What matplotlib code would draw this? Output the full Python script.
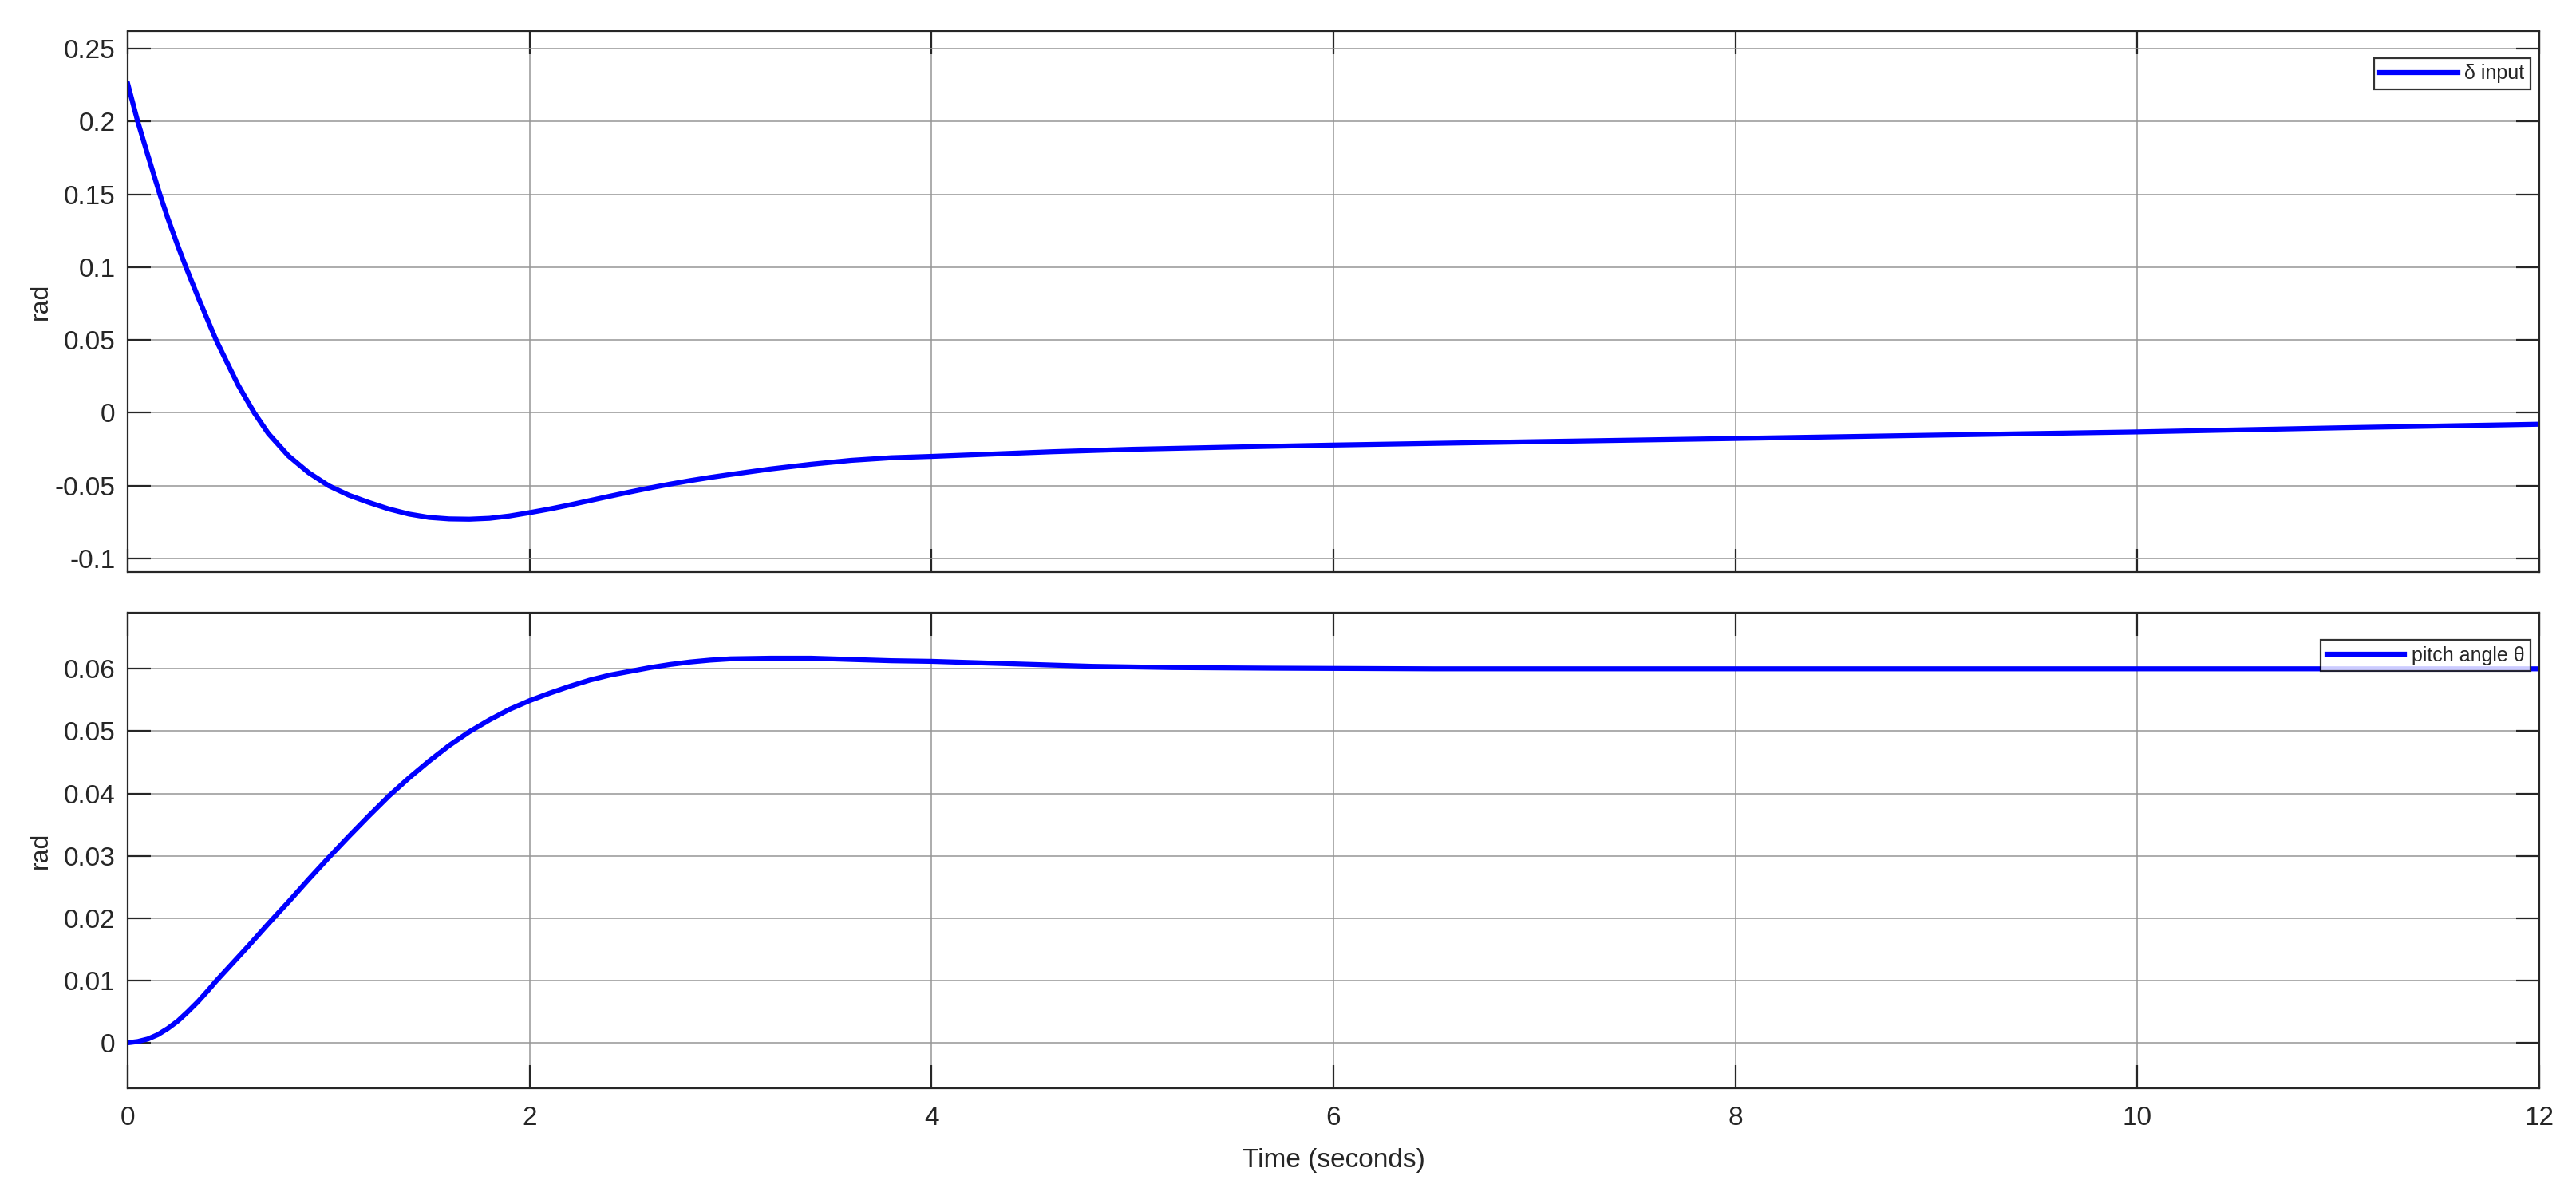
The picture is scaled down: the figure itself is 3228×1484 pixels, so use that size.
import matplotlib
matplotlib.use("Agg")
import matplotlib.pyplot as plt

# delta input (rad)
delta_t = [0.0, 0.05, 0.1, 0.16, 0.2, 0.25, 0.29, 0.35, 0.44, 0.5, 0.55, 0.63, 0.7, 0.8,
           0.9, 1.0, 1.1, 1.2, 1.3, 1.4, 1.5, 1.6, 1.7, 1.8, 1.9, 2.0, 2.1, 2.2, 2.3,
           2.4, 2.5, 2.6, 2.7, 2.8, 2.9, 3.0, 3.2, 3.4, 3.6, 3.8, 4.0, 4.3, 4.6, 5.0,
           5.5, 6.0, 7.0, 8.0, 9.0, 10.0, 11.0, 12.0]
delta_val = [0.226, 0.200, 0.177, 0.150, 0.1335, 0.1145, 0.100, 0.0795, 0.050, 0.033, 0.019,
             0.000, -0.0142, -0.0295, -0.041, -0.050, -0.0565, -0.0615, -0.0660, -0.0695,
             -0.0718, -0.0728, -0.0730, -0.0724, -0.0708, -0.0685, -0.0660, -0.0632,
             -0.0602, -0.0572, -0.0543, -0.0515, -0.0489, -0.0465, -0.0443, -0.0423,
             -0.0385, -0.0353, -0.0326, -0.0308, -0.0299, -0.0283, -0.0267, -0.0250,
             -0.0235, -0.0221, -0.0198, -0.0176, -0.0153, -0.0131, -0.0103, -0.0078]

# pitch angle theta (rad)
pitch_t = [0.0, 0.05, 0.1, 0.15, 0.2, 0.25, 0.3, 0.35, 0.4, 0.44, 0.5, 0.6, 0.7, 0.8,
           0.9, 1.0, 1.1, 1.2, 1.3, 1.4, 1.5, 1.6, 1.7, 1.8, 1.9, 2.0, 2.1, 2.2, 2.3,
           2.4, 2.5, 2.6, 2.7, 2.8, 2.9, 3.0, 3.2, 3.4, 3.6, 3.8, 4.0, 4.4, 4.8, 5.2,
           5.7, 6.5, 8.0, 10.0, 12.0]
pitch_val = [0.0, 0.0002, 0.0006, 0.0013, 0.0023, 0.0035, 0.0050, 0.0066, 0.0084, 0.0099,
             0.0120, 0.0155, 0.0191, 0.0226, 0.0262, 0.0297, 0.0331, 0.0364, 0.0396,
             0.0425, 0.0452, 0.0477, 0.0499, 0.0518, 0.0535, 0.0549, 0.0561, 0.0572,
             0.0582, 0.0590, 0.0596, 0.0602, 0.0607, 0.0611, 0.0614, 0.0616, 0.0617,
             0.0617, 0.0615, 0.0613, 0.0612, 0.0608, 0.0604, 0.0602, 0.0601, 0.0600,
             0.0600, 0.0600, 0.0600]

x_ticks = [0, 2, 4, 6, 8, 10, 12]
top_ticks = [-0.1, -0.05, 0, 0.05, 0.1, 0.15, 0.2, 0.25]
top_labels = ["-0.1", "-0.05", "0", "0.05", "0.1", "0.15", "0.2", "0.25"]
bot_ticks = [0, 0.01, 0.02, 0.03, 0.04, 0.05, 0.06]
bot_labels = ["0", "0.01", "0.02", "0.03", "0.04", "0.05", "0.06"]

plt.rcParams['font.family'] = ['Liberation Sans', 'DejaVu Sans']
W, H = 3228, 1484
fig = plt.figure(figsize=(W / 100, H / 100), dpi=100)
fig.patch.set_facecolor("white")

dark = "#262626"
ax_top = fig.add_axes([160 / W, 1 - 717 / H, 3022 / W, 678 / H])
ax_bot = fig.add_axes([160 / W, 1 - 1364 / H, 3022 / W, 596 / H])


def style(ax, yticks, ylabels, ylim):
    ax.set_xlim(0, 12)
    ax.set_ylim(*ylim)
    ax.set_xticks(x_ticks)
    ax.set_yticks(yticks)
    ax.set_yticklabels(ylabels)
    ax.grid(True, color="#969696", linewidth=1.1)
    ax.set_axisbelow(True)
    for s in ax.spines.values():
        s.set_color(dark)
        s.set_linewidth(1.6)
    ax.tick_params(direction="in", length=21, width=1.6, color=dark,
                   top=True, right=True, labelsize=24, labelcolor=dark)
    ax.tick_params(axis="x", pad=16)
    ax.tick_params(axis="y", pad=11)
    ax.set_ylabel("rad", fontsize=23, color=dark)
    ax.yaxis.set_label_coords(-0.031, 0.5)


style(ax_top, top_ticks, top_labels, (-0.1093, 0.2621))
style(ax_bot, bot_ticks, bot_labels, (-0.0073, 0.069))

ax_top.plot(delta_t, delta_val, color="#0000ff", linewidth=4.5, label="δ input")
ax_bot.plot(pitch_t, pitch_val, color="#0000ff", linewidth=4.5, label="pitch angle θ")
ax_top.tick_params(axis="x", labelbottom=False)

ax_bot.set_xticklabels([str(v) for v in x_ticks])
ax_bot.set_xlabel("Time (seconds)", fontsize=24, color=dark)
ax_bot.xaxis.set_label_coords(0.5, -0.125)

for ax, h in [(ax_top, 678), (ax_bot, 596)]:
    leg = ax.legend(loc="upper right", bbox_to_anchor=(1 - 11 / 3022, 1 - 34 / h),
                    borderaxespad=0, fontsize=18, frameon=True, fancybox=False,
                    handlelength=3.9, handletextpad=0.35, borderpad=0.3)
    leg.get_frame().set_edgecolor("black")
    leg.get_frame().set_linewidth(1.6)
    for t in leg.get_texts():
        t.set_color(dark)

fig.savefig("out.png", dpi=100)
